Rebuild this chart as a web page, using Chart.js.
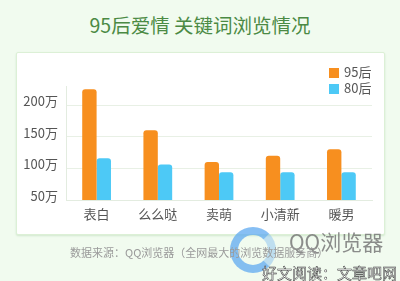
<!DOCTYPE html>
<html lang="zh">
<head>
<meta charset="UTF-8">
<title>95后爱情 关键词浏览情况</title>
<script src="https://cdn.jsdelivr.net/npm/chart.js"></script>
<style>
    body {
        margin: 0;
        width: 400px;
        height: 281px;
        overflow: hidden;
        position: relative;
        background-color: #f1fbef;
        font-family: "Noto Sans CJK SC", "Noto Sans", sans-serif;
    }
    .title {
        position: absolute;
        left: 0; width: 400px; top: 11px;
        text-align: center;
        font-size: 19.5px;
        color: #4b8a44;
        line-height: 28px;
    }
    .panel {
        position: absolute;
        left: 16px; top: 52px;
        width: 367px; height: 181px;
        background: #fff;
        border: 1px solid #dcf0d6;
        border-radius: 2px;
        box-shadow: 0 1px 2px rgba(120,180,110,0.25);
    }
    canvas#chart {
        position: absolute;
        left: 0; top: 0;
    }
    .legend {
        position: absolute;
        left: 329px; top: 64px;
        font-size: 13px;
        color: #555;
        line-height: 16px;
    }
    .legend span {
        display: inline-block;
        width: 10px; height: 10px;
        margin-right: 5px;
        vertical-align: -1px;
    }
    .source {
        position: absolute;
        left: 70px; top: 244px;
        font-size: 11px;
        color: #9a9a9a;
        white-space: nowrap;
    }
    .ring {
        position: absolute;
        left: 230px; top: 227px;
        width: 30px; height: 30px;
        border: 8px solid rgba(95,170,240,0.75);
        border-right-color: rgba(95,170,240,0.35);
        border-radius: 50%;
    }
    .qq {
        position: absolute;
        left: 289px; top: 226px;
        font-size: 21px;
        color: rgba(120,120,120,0.85);
        white-space: nowrap;
    }
    .mark {
        position: absolute;
        left: 262px; top: 262px;
        font-size: 15px;
        color: #fff;
        -webkit-text-stroke: 0.5px #333;
        white-space: nowrap;
    }
</style>
</head>
<body>
<div class="title">95后爱情 关键词浏览情况</div>
<div class="panel"></div>
<canvas id="chart" width="400" height="281"></canvas>
<div class="legend" id="legend"></div>
<div class="ring"></div>
<div class="qq">QQ浏览器</div>
<div class="source">数据来源：QQ浏览器（全网最大的浏览数据服务商）</div>
<div class="mark">好文阅读：文章吧网</div>
<script>
const categories = ['表白', '么么哒', '卖萌', '小清新', '暖男'];
const series95 = [225, 160, 110, 120, 130];
const series80 = [116, 106, 94, 94, 94];
const seriesNames = ['95后', '80后'];
const seriesColors = ['#f78f1f', '#4dc9f6'];

const legend = document.getElementById('legend');
seriesNames.forEach((name, i) => {
    const row = document.createElement('div');
    row.innerHTML = '<span style="background:' + seriesColors[i] + '"></span>' + name;
    legend.appendChild(row);
});

const font = { family: '"Noto Sans CJK SC", sans-serif', size: 13 };

new Chart(document.getElementById('chart'), {
    type: 'bar',
    data: {
        labels: categories,
        datasets: [
            { label: seriesNames[0], data: series95, backgroundColor: seriesColors[0] },
            { label: seriesNames[1], data: series80, backgroundColor: seriesColors[1] }
        ]
    },
    options: {
        responsive: false,
        animation: false,
        layout: { padding: { top: 86, right: 28, left: 0, bottom: 0 } },
        datasets: {
            bar: {
                categoryPercentage: 0.47,
                barPercentage: 1.0,
                borderRadius: { topLeft: 3, topRight: 3 },
                borderSkipped: 'bottom'
            }
        },
        plugins: {
            legend: { display: false },
            tooltip: { enabled: false }
        },
        scales: {
            x: {
                afterFit: s => { s.height = 81; },
                grid: { display: false, drawTicks: false },
                border: { color: '#e3ece0' },
                ticks: { color: '#555', font: font, padding: 6 }
            },
            y: {
                min: 50,
                max: 230,
                afterFit: s => { s.width = 66; },
                afterBuildTicks: s => { s.ticks = s.ticks.filter(t => t.value % 50 === 0); },
                grid: { color: '#e8f0e5', drawTicks: false },
                border: { color: '#e3ece0' },
                ticks: {
                    stepSize: 50,
                    color: '#555',
                    font: { family: font.family, size: 13 },
                    padding: 8,
                    labelOffset: -4,
                    callback: v => v + '万'
                }
            }
        }
    }
});
</script>
</body>
</html>
